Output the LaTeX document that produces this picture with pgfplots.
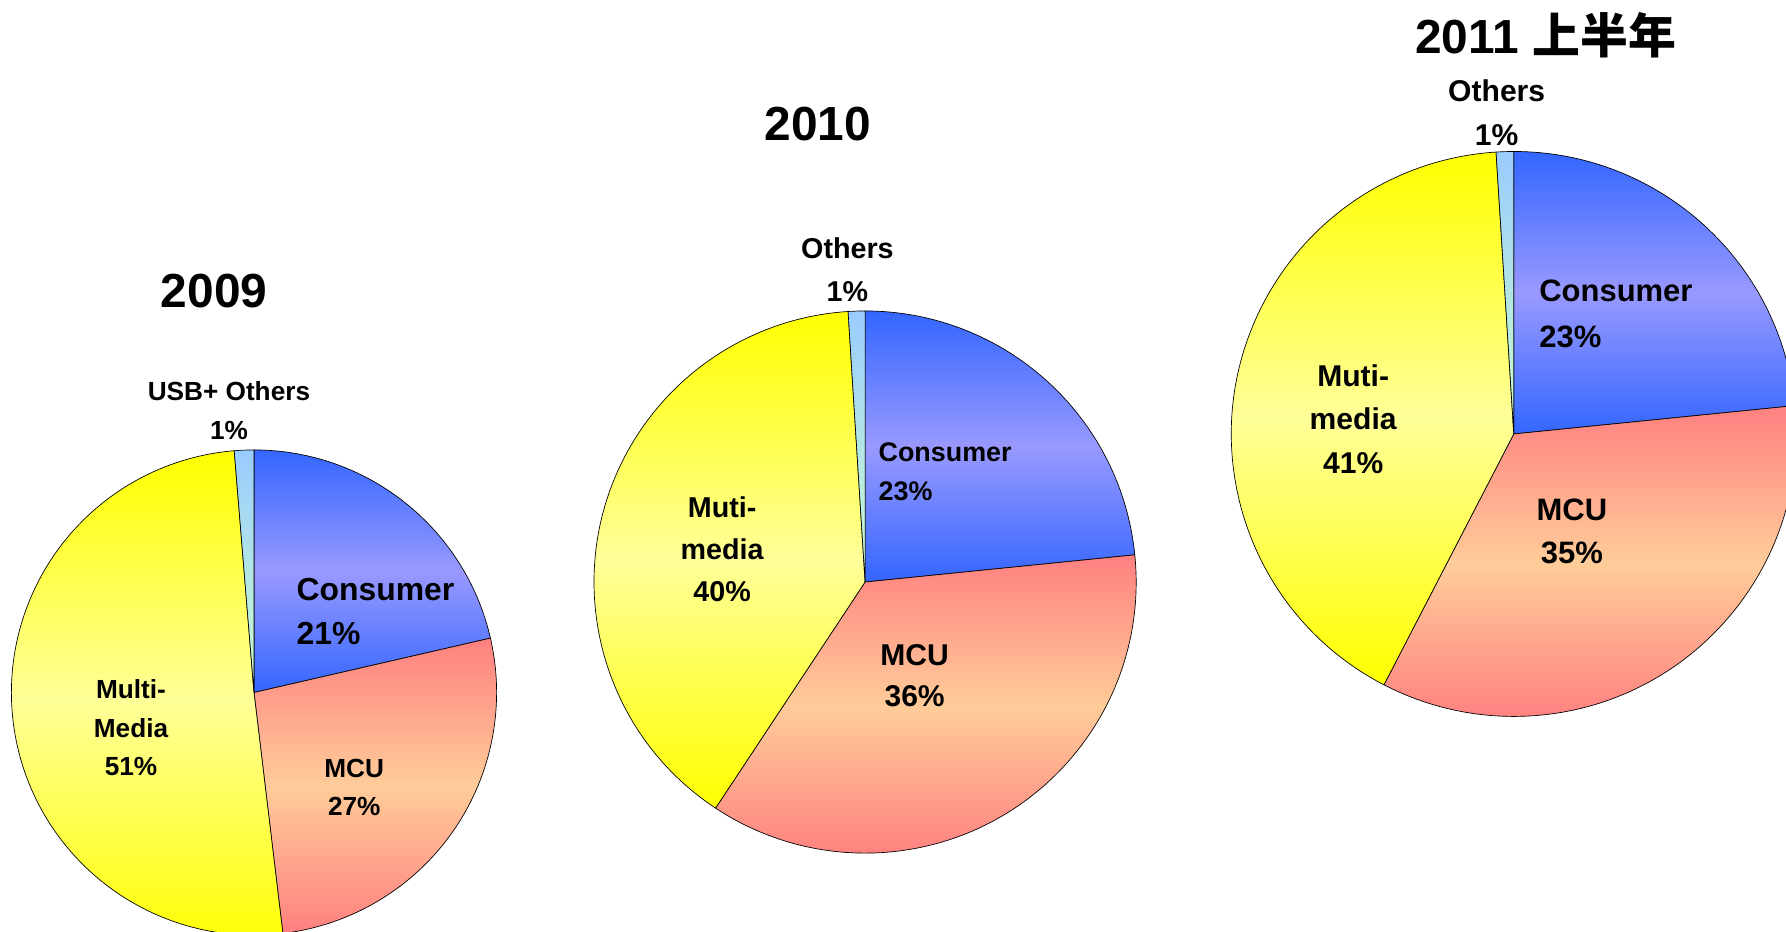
\documentclass[border=0pt]{standalone}
\usepackage{fontspec}
\setmainfont{Liberation Sans}
\newfontfamily\cjk{Noto Sans CJK SC Bold}
\usepackage{pgfplots}
\pgfplotsset{compat=1.18}

\definecolor{conA}{HTML}{3366FF}
\definecolor{conB}{HTML}{9999FF}
\definecolor{mcuA}{HTML}{FF8080}
\definecolor{mcuB}{HTML}{FFCC99}
\definecolor{mulA}{HTML}{FFFF00}
\definecolor{mulB}{HTML}{FFFF99}
\definecolor{othA}{HTML}{99CCFF}
\definecolor{othB}{HTML}{CCFFCC}

\tikzset{
  con/.style={top color=conA, bottom color=conA, middle color=conB},
  mcu/.style={top color=mcuA, bottom color=mcuA, middle color=mcuB},
  mul/.style={top color=mulA, bottom color=mulA, middle color=mulB},
  oth/.style={top color=othA, bottom color=othB},
}

% \slice{cx}{cy}{r}{from %}{to %}{style}  (clockwise from 12 o'clock)
\newcommand\slice[6]{%
  \shadedraw[#6, draw=black, line width=0.3pt, line join=round]
    (axis cs:#1,#2) -- ++({90-3.6*#4}:{#3*0.5bp})
    arc[start angle={90-3.6*#4}, end angle={90-3.6*#5}, radius={#3*0.5bp}] -- cycle;}

% \lab{x}{y from top}{size bp}{text}{anchor}
\newcommand\lab[5]{%
  \node[anchor=#5, inner sep=0pt, yshift={-0.358*#3bp},
        font=\fontsize{#3bp}{#3bp}\selectfont\bfseries]
    at (axis cs:#1,{818-#2}) {#4};}

\begin{document}
\begin{tikzpicture}
\useasboundingbox (0,0) rectangle (784bp,409bp);
\clip (0,0) rectangle (784bp,409bp);
\begin{axis}[at={(0,0)}, anchor=south west, scale only axis,
  width=784bp, height=409bp, xmin=0, xmax=1568, ymin=0, ymax=818,
  hide axis, clip=false]

% ---- 2009: Consumer 21, MCU 27, Multi-Media 51, USB+Others 1
\slice{223}{210}{213}{0}{21.4}{con}
\slice{223}{210}{213}{21.4}{48.1}{mcu}
\slice{223}{210}{213}{48.1}{98.7}{mul}
\slice{223}{210}{213}{98.7}{100}{oth}

% ---- 2010: Consumer 23, MCU 36, Muti-media 40, Others 1
\slice{759.5}{307}{238}{0}{23.4}{con}
\slice{759.5}{307}{238}{23.4}{59.3}{mcu}
\slice{759.5}{307}{238}{59.3}{99.0}{mul}
\slice{759.5}{307}{238}{99.0}{100}{oth}

% ---- 2011 H1: Consumer 23, MCU 35, Muti-media 41, Others 1
\slice{1329}{437}{248}{0}{23.4}{con}
\slice{1329}{437}{248}{23.4}{57.6}{mcu}
\slice{1329}{437}{248}{57.6}{99.0}{mul}
\slice{1329}{437}{248}{99.0}{100}{oth}

% labels 2009
\lab{188}{255}{21}{2009}{base}
\lab{201}{343}{11.5}{USB+ Others}{base}
\lab{201}{378}{11.5}{1\%}{base}
\lab{260}{517}{14}{Consumer}{base west}
\lab{260}{556}{14}{21\%}{base west}
\lab{115}{605}{11.5}{Multi-}{base}
\lab{115}{639}{11.5}{Media}{base}
\lab{115}{673}{11.5}{51\%}{base}
\lab{311}{674}{11.5}{MCU}{base}
\lab{311}{708}{11.5}{27\%}{base}

% labels 2010
\lab{718}{108}{21}{2010}{base}
\lab{744}{218}{12.6}{Others}{base}
\lab{744}{256}{12.6}{1\%}{base}
\lab{771}{397}{11.8}{Consumer}{base west}
\lab{771}{431}{11.8}{23\%}{base west}
\lab{634}{445}{12.6}{Muti-}{base}
\lab{634}{482}{12.6}{media}{base}
\lab{634}{519}{12.6}{40\%}{base}
\lab{803}{575}{13.2}{MCU}{base}
\lab{803}{611}{13.2}{36\%}{base}

% labels 2011
\lab{1357}{32}{21}{2011 {\cjk 上半年}}{base}
\lab{1314}{80}{13.2}{Others}{base}
\lab{1314}{118}{13.2}{1\%}{base}
\lab{1351}{255}{13.6}{Consumer}{base west}
\lab{1351}{295}{13.6}{23\%}{base west}
\lab{1188}{330}{13.2}{Muti-}{base}
\lab{1188}{368}{13.2}{media}{base}
\lab{1188}{406}{13.2}{41\%}{base}
\lab{1380}{447}{13.6}{MCU}{base}
\lab{1380}{485}{13.6}{35\%}{base}

\end{axis}
\end{tikzpicture}
\end{document}
